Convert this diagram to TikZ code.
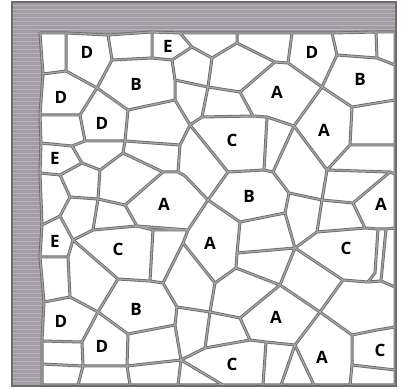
\documentclass[tikz,border=0pt]{standalone}
\usepackage{tikz}
\usepackage{xcolor}
\usepackage{fontspec}
\setsansfont{Open Sans}

\definecolor{bandgray}{RGB}{162,157,164}
\definecolor{stripegray}{RGB}{184,180,186}
\definecolor{edgedark}{RGB}{108,108,108}
\definecolor{edgelight}{RGB}{165,165,165}

% all grains of the section, as one path
\newcommand{\graincells}[1]{%
\path[#1]
 (40,33)--(66,33)--(66,71)--(43,74)--cycle
 (66,33)--(108,35)--(112,60)--(97,88)--(66,71)--cycle
 (108,35)--(152,32)--(152,58)--(112,60)--cycle
 (152,32)--(180,33)--(192,47)--(172,60)--(152,58)--cycle
 (180,33)--(237,33)--(237,43)--(212,58)--(192,47)--cycle
 (237,33)--(292,33)--(288,63)--(275,62)--(237,43)--cycle
 (292,33)--(332,33)--(337,55)--(322,87)--(288,63)--cycle
 (332,33)--(376,32)--(377,58)--(337,55)--cycle
 (376,32)--(395,32)--(395,65)--(377,58)--cycle
 (43,74)--(66,71)--(97,88)--(80,115)--(40,115)--cycle
 (112,60)--(152,58)--(172,60)--(175,80)--(175,100)--(128,110)--(97,88)--cycle
 (172,60)--(192,47)--(212,58)--(208,87)--(175,80)--cycle
 (212,58)--(237,43)--(275,62)--(240,92)--(208,87)--cycle
 (240,92)--(275,62)--(288,63)--(322,87)--(294,126)--(267,117)--(253,116)--cycle
 (337,55)--(377,58)--(395,65)--(395,100)--(352,107)--(322,87)--cycle
 (294,126)--(322,87)--(352,107)--(350,145)--(327,170)--cycle
 (352,107)--(395,100)--(395,145)--(350,145)--cycle
 (350,145)--(395,145)--(395,174)--(390,172)--(327,170)--cycle
 (97,88)--(128,110)--(125,141)--(85,141)--(80,115)--cycle
 (40,115)--(80,115)--(85,141)--(72,146)--(41,143)--cycle
 (175,80)--(208,87)--(202,117)--(190,125)--(175,100)--cycle
 (208,87)--(240,92)--(253,116)--(202,117)--cycle
 (128,110)--(175,100)--(190,125)--(180,145)--(125,141)--cycle
 (190,125)--(202,117)--(253,116)--(267,117)--(264,170)--(228,172)--cycle
 (267,117)--(294,126)--(273,172)--(264,170)--cycle
 (294,126)--(327,170)--(322,200)--(289,193)--(273,172)--cycle
 (327,170)--(390,172)--(353,203)--(322,200)--cycle
 (390,172)--(395,174)--(395,228)--(386,229)--(378,229)--(365,228)--(353,203)--cycle
 (41,143)--(72,146)--(82,163)--(60,175)--(40,173)--cycle
 (72,146)--(85,141)--(125,141)--(123,153)--(100,170)--(82,163)--cycle
 (125,141)--(180,145)--(178,172)--(163,172)--(123,153)--cycle
 (190,125)--(228,172)--(208,200)--(185,176)--(178,172)--(180,145)--cycle
 (208,200)--(228,172)--(264,170)--(273,172)--(289,193)--(285,213)--(240,222)--cycle
 (289,193)--(322,200)--(317,232)--(295,248)--(285,213)--cycle
 (322,200)--(353,203)--(365,228)--(317,232)--cycle
 (60,175)--(82,163)--(100,170)--(98,199)--(70,197)--cycle
 (40,173)--(60,175)--(70,197)--(60,216)--(42,225)--cycle
 (100,170)--(123,153)--(163,172)--(125,205)--(98,199)--cycle
 (163,172)--(178,172)--(185,176)--(208,200)--(188,230)--(137,226)--(125,205)--cycle
 (70,197)--(98,199)--(93,230)--(73,240)--(60,216)--cycle
 (98,199)--(125,205)--(137,226)--(93,230)--cycle
 (183,243)--(188,230)--(208,200)--(240,222)--(237,253)--(236,268)--(215,283)--cycle
 (240,222)--(285,213)--(295,248)--(237,253)--cycle
 (295,248)--(317,232)--(365,228)--(378,229)--(375,273)--(368,282)--(343,280)--cycle
 (378,229)--(386,229)--(381,281)--(368,282)--(375,273)--cycle
 (386,229)--(395,228)--(395,287)--(381,281)--cycle
 (42,225)--(60,216)--(73,240)--(68,257)--(40,257)--cycle
 (73,240)--(93,230)--(137,226)--(153,230)--(150,281)--(118,279)--cycle
 (153,230)--(188,230)--(183,243)--(163,283)--(150,281)--cycle
 (237,253)--(295,248)--(280,285)--(236,268)--cycle
 (295,248)--(343,280)--(320,312)--(280,285)--cycle
 (320,312)--(343,280)--(368,282)--(381,281)--(395,287)--(395,327)--(377,330)--(352,335)--cycle
 (40,257)--(68,257)--(70,297)--(44,302)--cycle
 (73,240)--(118,279)--(98,312)--(70,297)--(68,257)--cycle
 (98,312)--(118,279)--(150,281)--(163,283)--(177,307)--(175,325)--(128,334)--cycle
 (183,243)--(215,283)--(210,312)--(177,307)--(163,283)--cycle
 (215,283)--(236,268)--(280,285)--(240,318)--(210,312)--cycle
 (240,318)--(280,285)--(320,312)--(295,345)--(266,342)--(250,340)--cycle
 (44,302)--(70,297)--(98,312)--(82,342)--(42,341)--cycle
 (98,312)--(128,334)--(127,366)--(83,366)--(82,342)--cycle
 (128,334)--(175,325)--(181,360)--(127,366)--cycle
 (177,307)--(210,312)--(205,348)--(181,360)--(175,325)--cycle
 (210,312)--(240,318)--(250,340)--(205,348)--cycle
 (295,345)--(320,312)--(352,335)--(352,365)--(350,385)--(314,385)--cycle
 (352,335)--(377,330)--(395,327)--(395,370)--(352,365)--cycle
 (42,341)--(82,342)--(83,366)--(42,364)--cycle
 (42,364)--(83,366)--(78,385)--(42,385)--cycle
 (83,366)--(127,366)--(130,385)--(78,385)--cycle
 (127,366)--(181,360)--(178,385)--(130,385)--cycle
 (181,360)--(223,385)--(178,385)--cycle
 (181,360)--(205,348)--(250,340)--(266,342)--(263,385)--(223,385)--cycle
 (266,342)--(295,345)--(281,385)--(263,385)--cycle
 (295,345)--(314,385)--(281,385)--cycle
 (352,365)--(395,370)--(395,385)--(350,385)--cycle;}

\begin{document}
\begin{tikzpicture}[
    x=1pt, y=-1pt,
    band/.style={fill=bandgray},
    stripe/.style={stripegray, line width=0.6pt},
    edgeout/.style={draw=edgedark, line width=3pt, line join=round},
    edgein/.style={draw=edgelight, line width=1.3pt, line join=round},
    grainlabel/.style={font=\sffamily\bfseries\fontsize{17}{17}\selectfont, inner sep=0pt}
]
    \useasboundingbox (0,0) rectangle (405,390);

    % Striped band round the section
    \fill[band] (12,2) rectangle (396,386);
    \foreach \y in {5,9,...,384}
        \draw[stripe] (12,\y) -- (396,\y);

    % Grains
    \graincells{fill=white}
    \graincells{edgeout}
    \graincells{edgein}

    % Frame
    \draw[edgedark, line width=1.4pt] (12,2) rectangle (396,386);

    % Phase labels
    \node[grainlabel] (d1) at (87,52) {D};
    \node[grainlabel] (e1) at (168,46) {E};
    \node[grainlabel] (d2) at (312,52) {D};
    \node[grainlabel] (d3) at (61,97) {D};
    \node[grainlabel] (b1) at (136,84) {B};
    \node[grainlabel] (a1) at (277,92) {A};
    \node[grainlabel] (b2) at (360,79) {B};
    \node[grainlabel] (d4) at (102,123) {D};
    \node[grainlabel] (c1) at (232,140) {C};
    \node[grainlabel] (a2) at (324,130) {A};
    \node[grainlabel] (e2) at (55,158) {E};
    \node[grainlabel] (a3) at (164,204) {A};
    \node[grainlabel] (b3) at (249,196) {B};
    \node[grainlabel] (a4) at (381,204) {A};
    \node[grainlabel] (e3) at (55,241) {E};
    \node[grainlabel] (c2) at (118,249) {C};
    \node[grainlabel] (a5) at (210,243) {A};
    \node[grainlabel] (c3) at (346,248) {C};
    \node[grainlabel] (b4) at (136,309) {B};
    \node[grainlabel] (a6) at (276,317) {A};
    \node[grainlabel] (d5) at (61,321) {D};
    \node[grainlabel] (d6) at (102,346) {D};
    \node[grainlabel] (c4) at (232,364) {C};
    \node[grainlabel] (a7) at (322,357) {A};
    \node[grainlabel] (c5) at (380,350) {C};
\end{tikzpicture}
\end{document}
